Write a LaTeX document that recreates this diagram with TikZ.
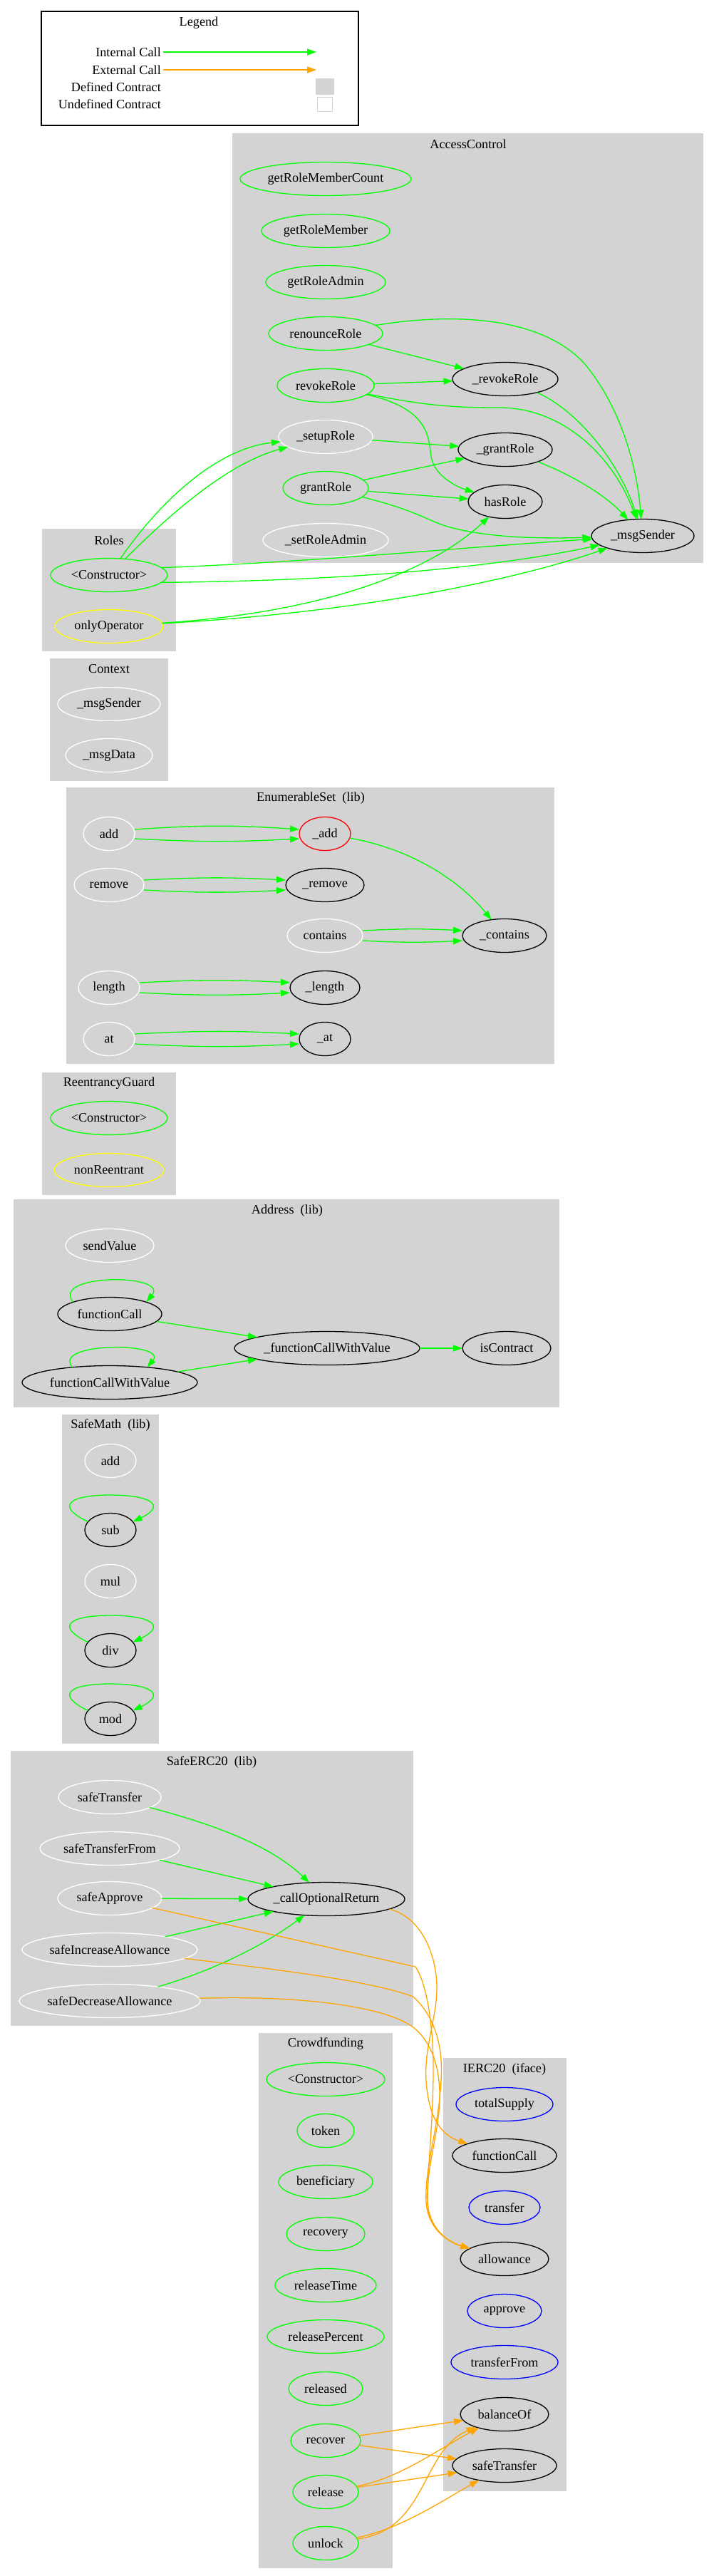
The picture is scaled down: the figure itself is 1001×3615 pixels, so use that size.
\documentclass[tikz,border=0pt]{standalone}
\usepackage{fontspec}
\setmainfont{Liberation Serif}
\usetikzlibrary{shapes.geometric,arrows.meta}
\definecolor{gvgreen}{RGB}{0,255,0}
\definecolor{gvorange}{RGB}{255,165,0}
\definecolor{gvgray}{RGB}{211,211,211}
\definecolor{gvyellow}{RGB}{255,255,0}
\definecolor{gvblue}{RGB}{0,0,255}
\definecolor{gvred}{RGB}{255,0,0}
\newcommand\gvfont{\fontsize{18.2pt}{22pt}\selectfont}
\newcommand\gvnode[6]{\node[fn,draw=#1,minimum width=#2pt] (#3) at (#4,#5) {#6};}
\begin{document}
\begin{tikzpicture}[x=1pt,y=-1pt,
  fn/.style={ellipse,line width=1.3pt,inner sep=0pt,outer sep=0pt,minimum height=47pt,font=\gvfont},
  cluster/.style={fill=gvgray},
  ctitle/.style={font=\gvfont,inner sep=0pt},
  callint/.style={draw=gvgreen,line width=1.3pt,-{Triangle[length=13pt,width=9pt]}},
  callext/.style={draw=gvorange,line width=1.3pt,-{Triangle[length=13pt,width=9pt]}}]
\useasboundingbox (0,0) rectangle (1001,3615);
\fill[white] (0,0) rectangle (1001,3615);

% ---------- legend ----------
\draw[line width=1.3pt,fill=white] (58,16) rectangle (503,176);
\node[ctitle] (lgTitle) at (279,32) {Legend};
\node[ctitle,anchor=east] (lgInt) at (226,73) {Internal Call};
\node[ctitle,anchor=east] (lgExt) at (226,98) {External Call};
\node[ctitle,anchor=east] (lgDef) at (226,122) {Defined Contract};
\node[ctitle,anchor=east] (lgUndef) at (226,146) {Undefined Contract};
\coordinate (lgIntEnd) at (444,73);
\coordinate (lgExtEnd) at (444,98);
\draw[callint] ([xshift=3pt]lgInt.east) -- (lgIntEnd);
\draw[callext] ([xshift=3pt]lgExt.east) -- (lgExtEnd);
\node[draw=gvgray,fill=gvgray,line width=1.3pt,minimum width=25pt,minimum height=22pt,inner sep=0pt] (lgDefBox) at (456,121.5) {};
\node[draw=gvgray,fill=white,line width=1.3pt,minimum width=21pt,minimum height=20pt,inner sep=0pt] (lgUndefBox) at (456,146.5) {};

% ---------- clusters ----------
\fill[cluster] (326,187) rectangle (987,790);
\fill[cluster] (59,742) rectangle (247,914);
\fill[cluster] (70,924) rectangle (236,1096);
\fill[cluster] (93,1105) rectangle (778,1493);
\fill[cluster] (59,1505) rectangle (247,1677);
\fill[cluster] (19,1683) rectangle (785,1975);
\fill[cluster] (87,1985) rectangle (223,2447);
\fill[cluster] (15,2457) rectangle (580,2843);
\fill[cluster] (363,2853) rectangle (551,3604);
\fill[cluster] (622,2888) rectangle (795,3496);

\node[ctitle] (tAC) at (657,202) {AccessControl};
\node[ctitle] (tRoles) at (153,758) {Roles};
\node[ctitle] (tCtx) at (153,939) {Context};
\node[ctitle] (tES) at (436,1120) {EnumerableSet\ \ (lib)};
\node[ctitle] (tRG) at (153,1520) {ReentrancyGuard};
\node[ctitle] (tAd) at (403,1699) {Address\ \ (lib)};
\node[ctitle] (tSM) at (155,2000) {SafeMath\ \ (lib)};
\node[ctitle] (tSE) at (297,2473) {SafeERC20\ \ (lib)};
\node[ctitle] (tCF) at (457,2868) {Crowdfunding};
\node[ctitle] (tIE) at (708,2904) {IERC20\ \ (iface)};

% ---------- nodes ----------
\gvnode{gvgreen}{240}{acGetRoleMemberCount}{457}{251}{getRoleMemberCount}
\gvnode{gvgreen}{180}{acGetRoleMember}{457}{324}{getRoleMember}
\gvnode{gvgreen}{168}{acGetRoleAdmin}{457}{396}{getRoleAdmin}
\gvnode{gvgreen}{160}{acRenounceRole}{457}{468}{renounceRole}
\gvnode{gvgreen}{136}{acRevokeRole}{457}{541}{revokeRole}
\gvnode{white}{132}{acSetupRole}{457}{613}{\_setupRole}
\gvnode{gvgreen}{120}{acGrantRole}{457}{685}{grantRole}
\gvnode{white}{176}{acSetRoleAdmin}{457}{758}{\_setRoleAdmin}
\gvnode{black}{148}{acRevokeRoleI}{709}{532}{\_revokeRole}
\gvnode{black}{132}{acGrantRoleI}{709}{631}{\_grantRole}
\gvnode{black}{104}{acHasRole}{709}{704}{hasRole}
\gvnode{black}{144}{acMsgSender}{902}{752}{\_msgSender}

\gvnode{gvgreen}{164}{rolesCtor}{153}{807}{<Constructor>}
\gvnode{gvyellow}{152}{rolesOnlyOperator}{153}{879}{onlyOperator}

\gvnode{white}{144}{ctxMsgSender}{153}{988}{\_msgSender}
\gvnode{white}{122}{ctxMsgData}{153}{1060}{\_msgData}

\gvnode{white}{72}{esAdd}{153}{1170}{add}
\gvnode{white}{98}{esRemove}{153}{1242}{remove}
\gvnode{white}{86}{esLength}{153}{1386}{length}
\gvnode{white}{72}{esAt}{153}{1458}{at}
\gvnode{gvred}{72}{esAddI}{456}{1170}{\_add}
\gvnode{black}{110}{esRemoveI}{456}{1242}{\_remove}
\gvnode{white}{106}{esContains}{456}{1313}{contains}
\gvnode{black}{98}{esLengthI}{456}{1386}{\_length}
\gvnode{black}{72}{esAtI}{456}{1458}{\_at}
\gvnode{black}{118}{esContainsI}{708}{1313}{\_contains}

\gvnode{gvgreen}{164}{rgCtor}{153}{1569}{<Constructor>}
\gvnode{gvyellow}{154}{rgNonReentrant}{153}{1642}{nonReentrant}

\gvnode{white}{124}{adSendValue}{154}{1748}{sendValue}
\gvnode{black}{146}{adFunctionCall}{154}{1844}{functionCall}
\gvnode{black}{246}{adFunctionCallWithValue}{154}{1940}{functionCallWithValue}
\gvnode{black}{260}{adFunctionCallWithValueI}{459}{1892}{\_functionCallWithValue}
\gvnode{black}{124}{adIsContract}{711}{1892}{isContract}

\gvnode{white}{72}{smAdd}{155}{2050}{add}
\gvnode{black}{72}{smSub}{155}{2147}{sub}
\gvnode{white}{72}{smMul}{155}{2219}{mul}
\gvnode{black}{72}{smDiv}{155}{2316}{div}
\gvnode{black}{72}{smMod}{155}{2412}{mod}

\gvnode{white}{144}{seSafeTransfer}{154}{2522}{safeTransfer}
\gvnode{white}{196}{seSafeTransferFrom}{154}{2594}{safeTransferFrom}
\gvnode{white}{146}{seSafeApprove}{154}{2664}{safeApprove}
\gvnode{white}{246}{seSafeIncreaseAllowance}{154}{2736}{safeIncreaseAllowance}
\gvnode{white}{254}{seSafeDecreaseAllowance}{154}{2808}{safeDecreaseAllowance}
\gvnode{black}{220}{seCallOptionalReturn}{458}{2665}{\_callOptionalReturn}

\gvnode{gvgreen}{166}{cfCtor}{457}{2918}{<Constructor>}
\gvnode{gvgreen}{80}{cfToken}{457}{2990}{token}
\gvnode{gvgreen}{132}{cfBeneficiary}{457}{3062}{beneficiary}
\gvnode{gvgreen}{110}{cfRecovery}{457}{3135}{recovery}
\gvnode{gvgreen}{142}{cfReleaseTime}{457}{3207}{releaseTime}
\gvnode{gvgreen}{164}{cfReleasePercent}{457}{3279}{releasePercent}
\gvnode{gvgreen}{104}{cfReleased}{457}{3352}{released}
\gvnode{gvgreen}{98}{cfRecover}{457}{3425}{recover}
\gvnode{gvgreen}{92}{cfRelease}{457}{3497}{release}
\gvnode{gvgreen}{92}{cfUnlock}{457}{3569}{unlock}

\gvnode{gvblue}{136}{ieTotalSupply}{708}{2953}{totalSupply}
\gvnode{black}{146}{ieFunctionCall}{708}{3025}{functionCall}
\gvnode{gvblue}{100}{ieTransfer}{708}{3098}{transfer}
\gvnode{black}{124}{ieAllowance}{708}{3170}{allowance}
\gvnode{gvblue}{104}{ieApprove}{708}{3243}{approve}
\gvnode{gvblue}{150}{ieTransferFrom}{708}{3315}{transferFrom}
\gvnode{black}{124}{ieBalanceOf}{708}{3388}{balanceOf}
\gvnode{black}{146}{ieSafeTransfer}{708}{3460}{safeTransfer}

% ---------- AccessControl edges ----------
\draw[callint] (acRenounceRole) .. controls (640,438) and (760,445) .. (820,510) .. controls (870,570) and (893,650) .. (acMsgSender);
\draw[callint] (acRenounceRole) -- (acRevokeRoleI);
\draw[callint] (acRevokeRole) -- (acRevokeRoleI);
\draw[callint] (acRevokeRole) .. controls (610,575) and (600,620) .. (606,645) .. controls (612,668) and (640,683) .. (acHasRole);
\draw[callint] (acRevokeRole) .. controls (600,570) and (640,572) .. (700,572) .. controls (790,572) and (860,640) .. (acMsgSender);
\draw[callint] (acRevokeRoleI) .. controls (810,575) and (870,650) .. (acMsgSender);
\draw[callint] (acSetupRole) -- (acGrantRoleI);
\draw[callint] (acGrantRoleI) .. controls (800,665) and (850,695) .. (acMsgSender);
\draw[callint] (acGrantRole) -- (acGrantRoleI);
\draw[callint] (acGrantRole) -- (acHasRole);
\draw[callint] (acGrantRole) .. controls (580,715) and (600,730) .. (625,738) .. controls (680,755) and (760,756) .. (acMsgSender);

% ---------- Roles edges ----------
\draw[callint] (rolesCtor) .. controls (220,710) and (300,630) .. (acSetupRole);
\draw[callint] (rolesCtor) .. controls (240,720) and (320,650) .. (acSetupRole);
\draw[callint] (rolesCtor.8) .. controls (450,788) and (650,768) .. (acMsgSender);
\draw[callint] (rolesCtor.-8) .. controls (500,815) and (700,795) .. (acMsgSender);
\draw[callint] (rolesOnlyOperator) .. controls (420,862) and (590,815) .. (acHasRole);
\draw[callint] (rolesOnlyOperator) .. controls (500,860) and (720,815) .. (acMsgSender);

% ---------- EnumerableSet edges ----------
\draw[callint] ([yshift=6pt]esAdd.east) to[bend left=4] ([yshift=6pt]esAddI.west);
\draw[callint] ([yshift=-7pt]esAdd.east) to[bend right=3] ([yshift=-7pt]esAddI.west);
\draw[callint] ([yshift=7pt]esRemove.east) to[bend left=3] ([yshift=7pt]esRemoveI.west);
\draw[callint] ([yshift=-7pt]esRemove.east) to[bend right=3] ([yshift=-7pt]esRemoveI.west);
\draw[callint] ([yshift=7pt]esLength.east) to[bend left=3] ([yshift=7pt]esLengthI.west);
\draw[callint] ([yshift=-7pt]esLength.east) to[bend right=3] ([yshift=-7pt]esLengthI.west);
\draw[callint] ([yshift=7pt]esAt.east) to[bend left=3] ([yshift=7pt]esAtI.west);
\draw[callint] ([yshift=-7pt]esAt.east) to[bend right=3] ([yshift=-7pt]esAtI.west);
\draw[callint] ([yshift=7pt]esContains.east) to[bend left=3] ([yshift=7pt]esContainsI.west);
\draw[callint] ([yshift=-7pt]esContains.east) to[bend right=3] ([yshift=-7pt]esContainsI.west);
\draw[callint] (esAddI) .. controls (570,1190) and (640,1230) .. (esContainsI);

% ---------- Address edges ----------
\draw[callint] (adFunctionCall.162) .. controls (70,1787) and (238,1787) .. (adFunctionCall.18);
\draw[callint] (adFunctionCallWithValue.158) .. controls (72,1883) and (236,1883) .. (adFunctionCallWithValue.22);
\draw[callint] (adFunctionCall) -- (adFunctionCallWithValueI);
\draw[callint] (adFunctionCallWithValue) -- (adFunctionCallWithValueI);
\draw[callint] (adFunctionCallWithValueI) -- (adIsContract);

% ---------- SafeMath loops ----------
\draw[callint] (smSub.160) .. controls (75,2112) and (100,2098) .. (155,2098) .. controls (210,2098) and (235,2112) .. (smSub.20);
\draw[callint] (smDiv.160) .. controls (75,2281) and (100,2267) .. (155,2267) .. controls (210,2267) and (235,2281) .. (smDiv.20);
\draw[callint] (smMod.160) .. controls (75,2377) and (100,2363) .. (155,2363) .. controls (210,2363) and (235,2377) .. (smMod.20);

% ---------- SafeERC20 edges ----------
\draw[callint] (seSafeTransfer) .. controls (300,2560) and (380,2590) .. (seCallOptionalReturn);
\draw[callint] (seSafeTransferFrom) -- (seCallOptionalReturn);
\draw[callint] (seSafeApprove) -- (seCallOptionalReturn);
\draw[callint] (seSafeIncreaseAllowance) -- (seCallOptionalReturn);
\draw[callint] (seSafeDecreaseAllowance) .. controls (300,2765) and (370,2730) .. (seCallOptionalReturn);

\draw[callext] (seCallOptionalReturn.-9) .. controls (590,2690) and (612,2740) .. (613,2787) .. controls (614,2830) and (595,2870) .. (598,2920) .. controls (601,2965) and (615,2995) .. (ieFunctionCall);
\draw[callext] (seSafeApprove) -- (583,2760) .. controls (600,2785) and (609,2850) .. (608,2913) .. controls (607,2990) and (600,3040) .. (600,3090) .. controls (600,3125) and (625,3145) .. (ieAllowance);
\draw[callext] (seSafeIncreaseAllowance) .. controls (400,2765) and (520,2780) .. (580,2802) .. controls (610,2830) and (622,2870) .. (619,2920) .. controls (615,2990) and (596,3040) .. (598,3090) .. controls (600,3125) and (625,3145) .. (ieAllowance);
\draw[callext] (seSafeDecreaseAllowance) .. controls (420,2800) and (540,2815) .. (580,2845) .. controls (605,2865) and (618,2900) .. (617,2947) .. controls (615,3000) and (598,3040) .. (600,3090) .. controls (602,3125) and (625,3145) .. (ieAllowance);

% ---------- Crowdfunding edges ----------
\draw[callext] (cfRecover) -- (ieBalanceOf);
\draw[callext] (cfRecover) -- (ieSafeTransfer);
\draw[callext] (cfRelease) .. controls (560,3478) and (610,3440) .. (ieBalanceOf);
\draw[callext] (cfRelease) -- (ieSafeTransfer);
\draw[callext] (cfUnlock) .. controls (600,3550) and (590,3440) .. (ieBalanceOf);
\draw[callext] (cfUnlock) .. controls (560,3550) and (620,3510) .. (ieSafeTransfer);
\end{tikzpicture}
\end{document}
